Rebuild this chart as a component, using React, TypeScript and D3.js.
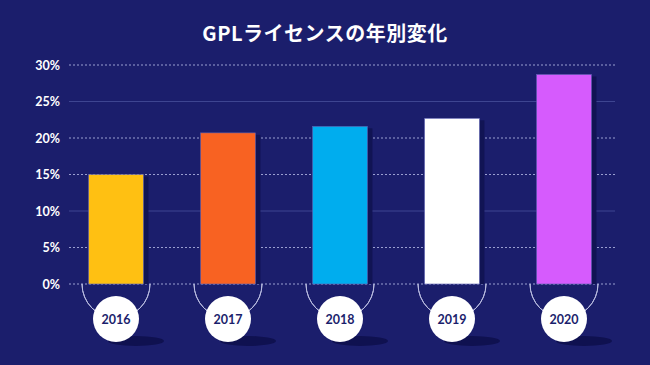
import { useEffect, useRef } from "react";
import * as d3 from "d3";

const years = ["2016", "2017", "2018", "2019", "2020"];
const shares = [15.0, 20.7, 21.6, 22.7, 28.7];
const colors = ["#ffc012", "#f86222", "#00adee", "#ffffff", "#d65bfd"];
const ticks = [0, 5, 10, 15, 20, 25, 30];
const solidTicks = [10, 25];

const W = 650;
const H = 365;

const App = () => {
  const svgRef = useRef<SVGSVGElement | null>(null);

  useEffect(() => {
    if (!svgRef.current) return;
    const svg = d3.select(svgRef.current);
    svg.selectAll("*").remove();

    const x = d3.scaleBand()
      .domain(years)
      .range([60, 620])
      .paddingInner(0.51)
      .paddingOuter(0.255);

    const y = d3.scaleLinear().domain([0, 30]).range([284, 65]);

    // background
    svg.append("rect").attr("width", W).attr("height", H).attr("fill", "#1b1e6c");

    // title
    svg.append("text")
      .attr("x", W / 2)
      .attr("y", 41)
      .attr("text-anchor", "middle")
      .attr("fill", "#ffffff")
      .attr("font-family", "'Noto Sans CJK JP', 'Noto Sans', sans-serif")
      .attr("font-weight", 700)
      .attr("font-size", 20)
      .attr("letter-spacing", 0.5)
      .text("GPLライセンスの年別変化");

    // grid
    svg.append("g").selectAll("line")
      .data(ticks)
      .enter().append("line")
      .attr("x1", 69)
      .attr("x2", 615)
      .attr("y1", d => y(d))
      .attr("y2", d => y(d))
      .attr("stroke", d => solidTicks.includes(d) ? "#3e4591" : "#9a9fd0")
      .attr("stroke-width", 1)
      .attr("stroke-dasharray", d => solidTicks.includes(d) ? null : "2,2");

    // y labels
    svg.append("g").selectAll("text")
      .data(ticks)
      .enter().append("text")
      .attr("x", 60)
      .attr("y", d => y(d) + 4.5)
      .attr("text-anchor", "end")
      .attr("fill", "#ffffff")
      .attr("font-family", "Lato, 'Noto Sans', sans-serif")
      .attr("font-weight", 700)
      .attr("font-size", 12.5)
      .text(d => `${d}%`);

    // bar shadows
    svg.append("g").selectAll("rect")
      .data(shares)
      .enter().append("rect")
      .attr("x", (_, i) => (x(years[i]) ?? 0) + x.bandwidth())
      .attr("y", d => y(d) + 2)
      .attr("width", 5)
      .attr("height", d => y(0) - y(d) - 2)
      .attr("fill", "#111454");

    // bars
    svg.append("g").selectAll("rect")
      .data(shares)
      .enter().append("rect")
      .attr("x", (_, i) => x(years[i]) ?? 0)
      .attr("y", d => y(d))
      .attr("width", x.bandwidth())
      .attr("height", d => y(0) - y(d))
      .attr("fill", (_, i) => colors[i])
      .attr("stroke", "#5a5fb0")
      .attr("stroke-width", 0.6);

    // badges
    const badge = svg.append("g").selectAll("g")
      .data(years)
      .enter().append("g")
      .attr("transform", d => `translate(${(x(d) ?? 0) + x.bandwidth() / 2},0)`);

    const arc = d3.arc<unknown>()
      .innerRadius(34)
      .outerRadius(34)
      .startAngle(Math.PI / 2)
      .endAngle(Math.PI * 1.5);

    badge.append("path")
      .attr("d", arc(null as unknown) ?? "")
      .attr("transform", `translate(0,${y(0)})`)
      .attr("fill", "none")
      .attr("stroke", "#b9bce0")
      .attr("stroke-width", 1);

    badge.append("ellipse")
      .attr("cx", 20)
      .attr("cy", 341)
      .attr("rx", 28)
      .attr("ry", 5)
      .attr("fill", "#0f1150");

    badge.append("circle")
      .attr("cx", 0)
      .attr("cy", 319)
      .attr("r", 23)
      .attr("fill", "#ffffff");

    badge.append("text")
      .attr("x", 0)
      .attr("y", 323.5)
      .attr("text-anchor", "middle")
      .attr("fill", "#1b1e6c")
      .attr("font-family", "Lato, 'Noto Sans', sans-serif")
      .attr("font-weight", 700)
      .attr("font-size", 12.5)
      .text(d => d);
  }, []);

  return (
    <svg
      ref={svgRef}
      width={W}
      height={H}
      style={{ position: "absolute", left: 0, top: 0 }}
    />
  );
};

export default App;
